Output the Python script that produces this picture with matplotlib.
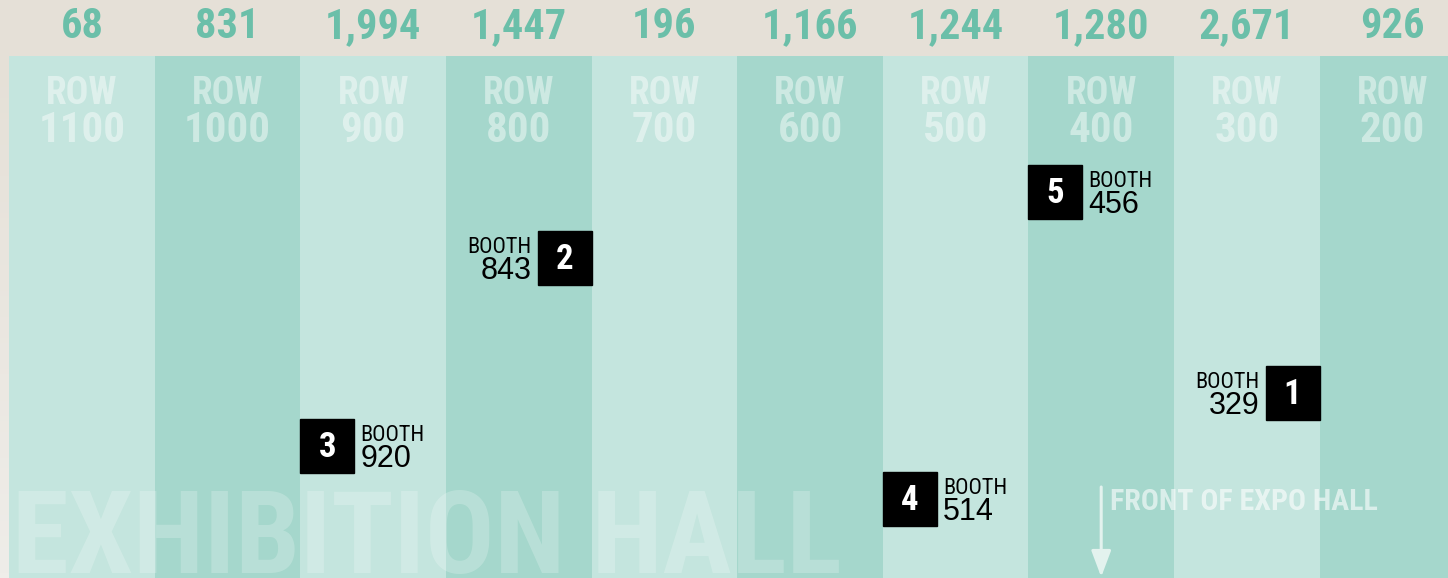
import matplotlib.pyplot as plt
import numpy as np
from matplotlib.patches import Rectangle
from matplotlib.colors import LinearSegmentedColormap

# data
row_labels = ['1100', '1000', '900', '800', '700', '600', '500', '400', '300', '200']
visitors = [68, 831, 1994, 1447, 196, 1166, 1244, 1280, 2671, 926]

booth_rank = [1, 2, 3, 4, 5]
booth_numbers = [329, 843, 920, 514, 456]
booth_row = [8, 3, 2, 6, 7]          # column index of the row
booth_top = [366, 231, 419, 472, 165]  # vertical position in the hall (px from top)
booth_side = ['left', 'left', 'right', 'right', 'right']  # side the label sits on

# layout (pixels)
W, H = 1448, 578
left_px = 9.2
col_px = 145.6
band_px = 56
box_px = 54

beige = '#e5e0d7'
light = '#c4e5de'
dark = '#a5d7cc'
teal = '#6bbfa9'

cond = ['Roboto Condensed', 'DejaVu Sans']
plain = ['Liberation Sans', 'DejaVu Sans']

fig = plt.figure(figsize=(W / 100, H / 100), dpi=100, facecolor=beige)
ax = fig.add_axes([0, 0, 1, 1])
ax.set_facecolor(beige)
x0 = -left_px / col_px
ax.set_xlim(x0, x0 + W / col_px)
ax.set_ylim(H, 0)
ax.axis('off')

# soft lighter corner on the left strip
grad = np.linspace(0, 1, 100).reshape(-1, 1)
ax.imshow(grad, cmap=LinearSegmentedColormap.from_list('g', [beige, '#efede9']),
          extent=(x0, 0, H, band_px), aspect='auto', zorder=0)

n = len(row_labels)
xs = np.arange(n) + 0.5
ax.bar(xs, H - band_px, bottom=band_px, width=1.0,
       color=[light if i % 2 == 0 else dark for i in range(n)], zorder=1)

for i in range(n):
    ax.text(xs[i], 38, f'{visitors[i]:,}', ha='center', va='baseline', color=teal,
            fontsize=30.5, fontweight='bold', family=cond, zorder=3)
    ax.text(xs[i], 104, 'ROW', ha='center', va='baseline', color='white', alpha=0.45,
            fontsize=27, fontweight='bold', family=cond, zorder=2)
    ax.text(xs[i], 142, row_labels[i], ha='center', va='baseline', color='white', alpha=0.45,
            fontsize=31, fontweight='bold', family=cond, zorder=2)

# big watermark
ax.text(12 / col_px + x0, 573, 'EXHIBITION HALL', ha='left', va='baseline', color='white',
        alpha=0.22, fontsize=83, fontweight='bold', family=cond, zorder=2)

# front of hall arrow
ax.annotate('', xy=(7.5, 577), xytext=(7.5, 487),
            arrowprops=dict(arrowstyle='-|>,head_length=1.6,head_width=0.6', lw=2.2,
                            color='#e3f2ee', mutation_scale=10, shrinkA=0, shrinkB=0),
            zorder=3)
ax.text(7.5 + 9 / col_px, 510, 'FRONT OF EXPO HALL', ha='left', va='baseline',
        color='white', alpha=0.6, fontsize=21.5, fontweight='bold', family=cond, zorder=3)

# booth markers
bw = box_px / col_px
gap = 6 / col_px
for rank, num, col, top, side in zip(booth_rank, booth_numbers, booth_row, booth_top, booth_side):
    if side == 'right':
        bx = col
        tx, ha = bx + bw + gap, 'left'
    else:
        bx = col + 1 - bw
        tx, ha = bx - gap, 'right'
    ax.add_patch(Rectangle((bx, top), bw, box_px, color='black', zorder=4))
    ax.text(bx + bw / 2, top + 38, str(rank), ha='center', va='baseline', color='white',
            fontsize=25, fontweight='bold', family=cond, zorder=5)
    ax.text(tx, top + 22, 'BOOTH', ha=ha, va='baseline', color='black',
            fontsize=16, family=cond, zorder=5)
    ax.text(tx, top + 48, str(num), ha=ha, va='baseline', color='black',
            fontsize=22, family=plain, zorder=5)

fig.savefig('out.png', dpi=100, facecolor=beige)
